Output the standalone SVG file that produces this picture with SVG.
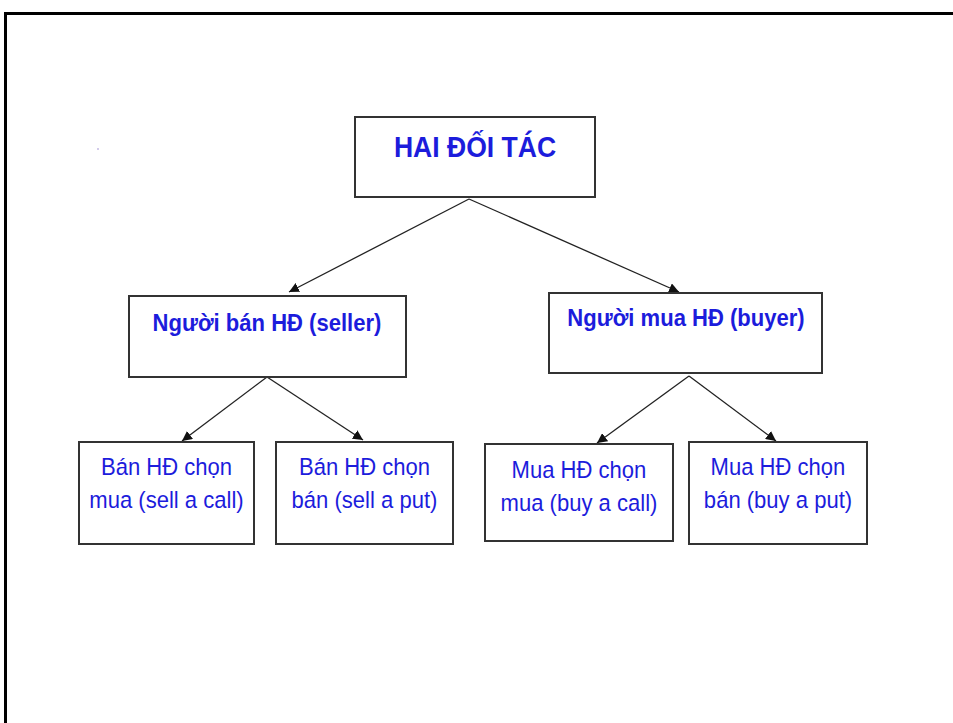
<svg xmlns="http://www.w3.org/2000/svg" width="953" height="723" viewBox="0 0 953 723">
  <style>
    .box { fill: #ffffff; stroke: #333333; stroke-width: 2; }
    .t { font-family: "Liberation Sans", Arial, sans-serif; fill: #1c1cdc; text-anchor: middle; }
    .b { font-weight: bold; }
    .conn { stroke: #222222; stroke-width: 1.3; fill: none; marker-end: url(#arr); }
  </style>
  <defs>
    <marker id="arr" viewBox="0 0 10 10" refX="10" refY="5" markerWidth="10" markerHeight="10" markerUnits="userSpaceOnUse" orient="auto">
      <path d="M0,0 L10,5 L0,10 z" fill="#111111"/>
    </marker>
  </defs>
  <rect width="953" height="723" fill="#ffffff"/>
  <g id="frame">
    <path d="M5.5,723 L5.5,13.5 L953,13.5" fill="none" stroke="#000000" stroke-width="3"/>
    <circle cx="98" cy="149" r="0.8" fill="#9a8ad0"/>
  </g>
  <g id="connectors">
    <line class="conn" x1="469" y1="199" x2="289" y2="292"/>
    <line class="conn" x1="469" y1="199" x2="679" y2="292"/>
    <line class="conn" x1="267" y1="377" x2="182" y2="441"/>
    <line class="conn" x1="267" y1="377" x2="363" y2="440"/>
    <line class="conn" x1="689" y1="376" x2="597" y2="443"/>
    <line class="conn" x1="689" y1="376" x2="776" y2="441"/>
  </g>
  <g id="root">
    <rect class="box" x="355" y="117" width="240" height="80"/>
    <text class="t b" transform="translate(475,157) scale(0.9,1)" font-size="29.5">HAI ĐỐI TÁC</text>
  </g>
  <g id="seller">
    <rect class="box" x="129" y="296" width="277" height="81"/>
    <text class="t b" transform="translate(267,331) scale(0.9,1)" font-size="24.5">Người bán HĐ (seller)</text>
  </g>
  <g id="buyer">
    <rect class="box" x="549" y="293" width="273" height="80"/>
    <text class="t b" transform="translate(686,326) scale(0.9,1)" font-size="24.5">Người mua HĐ (buyer)</text>
  </g>
  <g id="sell-call">
    <rect class="box" x="79" y="442" width="175" height="102"/>
    <text class="t" transform="translate(166.5,475) scale(0.9,1)" font-size="24.5"><tspan x="0" y="0">Bán HĐ chọn</tspan><tspan x="0" y="33">mua (sell a call)</tspan></text>
  </g>
  <g id="sell-put">
    <rect class="box" x="276" y="442" width="177" height="102"/>
    <text class="t" transform="translate(364.5,475) scale(0.9,1)" font-size="24.5"><tspan x="0" y="0">Bán HĐ chọn</tspan><tspan x="0" y="33">bán (sell a put)</tspan></text>
  </g>
  <g id="buy-call">
    <rect class="box" x="485" y="444" width="188" height="97"/>
    <text class="t" transform="translate(579,478) scale(0.9,1)" font-size="24.5"><tspan x="0" y="0">Mua HĐ chọn</tspan><tspan x="0" y="33">mua (buy a call)</tspan></text>
  </g>
  <g id="buy-put">
    <rect class="box" x="689" y="442" width="178" height="102"/>
    <text class="t" transform="translate(778,475) scale(0.9,1)" font-size="24.5"><tspan x="0" y="0">Mua HĐ chọn</tspan><tspan x="0" y="33">bán (buy a put)</tspan></text>
  </g>
</svg>
